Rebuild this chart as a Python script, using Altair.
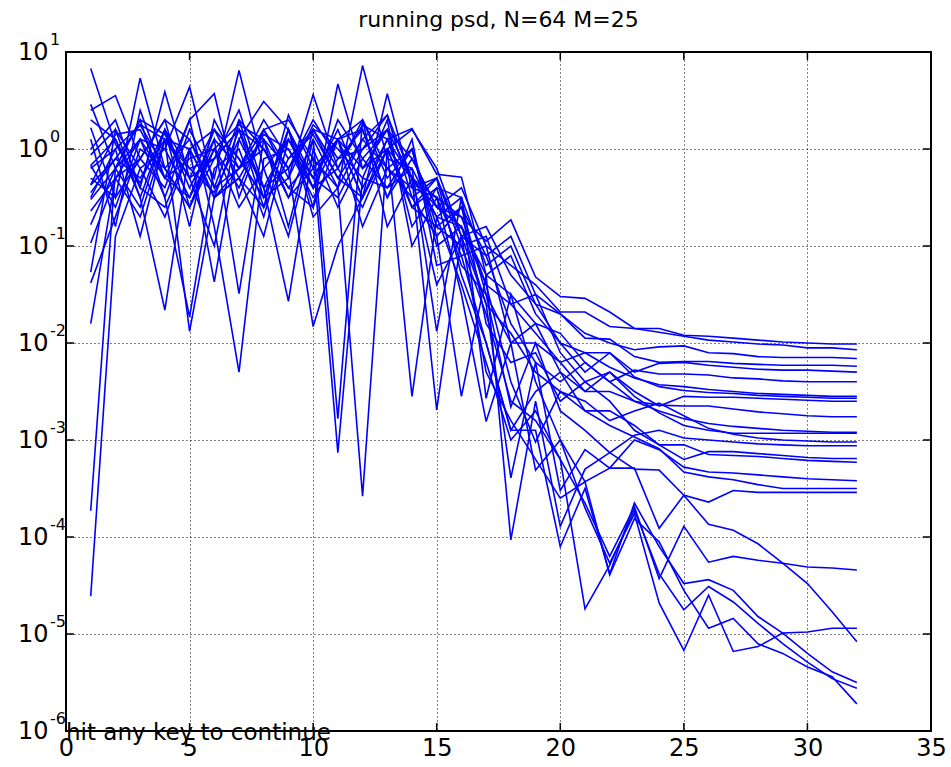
import altair as alt
import pandas as pd

FONT = "DejaVu Sans"

title_text = "running psd, N=64 M=25"
footer_text = "hit any key to continue"
freq_bins = list(range(1, 33))
x_ticks = [0, 5, 10, 15, 20, 25, 30, 35]
y_decades = [10, 1, 0.1, 0.01, 1e-3, 1e-4, 1e-5, 1e-6]
y_exponents = ["1", "0", "-1", "-2", "-3", "-4", "-5", "-6"]

# log10 of the PSD estimate of each of the M=25 runs, bins 1..32
run_01 = [0.83, 0.05, -0.35, 0.2, -0.4, 0.1, -0.2, 0.3, -0.1, 0.2, -0.3, 0.1, -0.2, -0.4, -0.5, -0.7, -0.95, -0.73, -1.32, -1.52, -1.54, -1.68, -1.85, -1.85, -1.92, -1.93, -1.95, -1.97, -1.99, -2.00, -2.01, -2.01]
run_02 = [0.46, -0.2, 0.3, -0.5, 0.2, -0.3, 0.81, -0.2, 0.1, -0.4, 0.3, -0.1, 0.2, -0.3, -0.6, -0.4, -1.0, -1.2, -1.4, -1.68, -1.68, -1.83, -1.85, -1.89, -1.93, -1.97, -1.99, -2.01, -2.02, -2.05, -2.05, -2.07]
run_03 = [0.40, 0.55, -0.1, 0.3, -0.6, 0.0, -0.4, 0.2, -0.3, 0.56, -0.2, 0.3, -0.3, 0.0, -0.8, -0.6, -1.1, -0.9, -1.5, -1.7, -1.9, -2.0, -2.07, -2.04, -2.03, -2.1, -2.11, -2.14, -2.15, -2.15, -2.15, -2.16]
run_04 = [0.22, -0.5, 0.73, -0.2, 0.1, -0.5, 0.2, -0.6, 0.35, -0.2, 0.1, -0.5, 0.57, -0.4, -0.3, -0.9, -0.8, -1.3, -1.6, -1.7, -1.95, -1.96, -2.14, -2.2, -2.19, -2.19, -2.21, -2.22, -2.23, -2.23, -2.23, -2.24]
run_05 = [0.0, 0.3, -0.4, 0.59, -0.3, 0.2, -0.1, -0.5, 0.2, -0.6, 0.67, -0.2, 0.0, -0.6, -0.4, -0.5, -1.2, -1.0, -1.6, -2.0, -2.1, -2.1, -2.3, -2.21, -2.2, -2.23, -2.25, -2.27, -2.28, -2.28, -2.29, -2.30]
run_06 = [-0.06, 0.2, -0.2, 0.0, 0.64, -0.4, 0.3, 0.0, -0.5, 0.1, -0.4, 0.86, -0.1, -0.2, -0.7, -0.8, -1.3, -1.5, -1.8, -1.9, -2.2, -2.4, -2.28, -2.32, -2.32, -2.33, -2.36, -2.37, -2.39, -2.40, -2.40, -2.40]
run_07 = [-0.17, -0.6, 0.1, -0.3, 0.3, 0.57, -0.5, 0.2, -0.2, 0.3, -0.1, 0.0, 0.35, -0.5, -0.3, -1.0, -0.9, -1.6, -1.9, -2.2, -2.1, -2.25, -2.36, -2.43, -2.45, -2.48, -2.50, -2.52, -2.53, -2.54, -2.55, -2.55]
run_08 = [-0.17, 0.1, -0.5, 0.2, -0.2, -0.1, 0.4, -0.4, 0.1, -0.3, 0.2, -0.4, 0.1, 0.21, -0.26, -0.29, -1.3, -1.1, -1.7, -2.0, -2.3, -2.1, -2.35, -2.45, -2.49, -2.51, -2.52, -2.54, -2.55, -2.56, -2.57, -2.57]
run_09 = [-0.37, -0.1, 0.25, 0.1, -0.2, -0.45, 0.1, 0.49, 0.2, -0.3, -0.5, 0.0, 0.2, -0.1, -0.6, -0.7, -1.4, -1.6, -1.5, -2.1, -2.4, -2.3, -2.5, -2.65, -2.55, -2.56, -2.56, -2.57, -2.58, -2.59, -2.60, -2.60]
run_10 = [-0.37, 0.15, 0.2, -0.3, -0.5, 0.0, 0.25, 0.1, -0.5, -0.2, 0.1, 0.3, -0.2, -0.5, -0.9, -0.6, -1.5, -2.0, -1.8, -2.3, -2.5, -2.5, -2.6, -2.64, -2.65, -2.65, -2.68, -2.71, -2.73, -2.75, -2.76, -2.76]
run_11 = [-0.52, -0.2, 0.3, 0.15, -0.3, -0.1, 0.2, -0.4, -0.2, 0.2, 0.1, -0.5, 0.0, 0.2, -0.2, -0.9, -1.1, -1.8, -2.2, -2.4, -2.2, -2.4, -2.6, -2.7, -2.78, -2.83, -2.86, -2.88, -2.9, -2.91, -2.92, -2.92]
run_12 = [-0.64, -0.3, -0.1, 0.3, 0.1, -0.4, -0.2, 0.2, 0.3, -0.1, -0.4, 0.1, 0.35, -0.3, -0.5, -1.1, -1.0, -2.0, -2.0, -2.2, -2.5, -2.3, -2.55, -2.72, -2.85, -2.9, -2.93, -2.93, -2.93, -2.93, -2.93, -2.93]
run_13 = [-0.78, -0.2, 0.1, 0.0, -0.5, 0.2, -0.1, -0.5, -0.3, 0.25, 0.0, -0.3, -0.4, 0.0, -1.0, -0.8, -1.6, -1.9, -2.3, -2.5, -2.6, -2.8, -2.7, -2.62, -2.75, -2.88, -2.94, -2.98, -3.0, -3.01, -3.02, -3.02]
run_14 = [-0.97, -0.3, 0.1, -0.5, -1.73, -0.2, 0.0, -0.7, 0.2, -0.4, 0.1, -0.2, 0.2, -0.8, -0.4, -1.2, -1.5, -2.66, -2.0, -2.7, -2.9, -3.13, -2.95, -2.9, -2.98, -3.0, -3.02, -3.04, -3.05, -3.06, -3.06, -3.06]
run_15 = [-1.27, 0.2, -0.5, -1.66, 0.0, -1.37, 0.1, -0.4, -1.57, 0.0, -0.6, -0.1, -0.4, -0.2, -1.88, -0.5, -1.8, -2.2, -2.1, -2.6, -2.4, -2.6, -2.9, -3.05, -3.2, -3.12, -3.12, -3.14, -3.16, -3.18, -3.19, -3.19]
run_16 = [-1.38, -0.7, 0.0, -0.2, -0.6, 0.1, -1.49, 0.1, -0.2, -1.83, -1.0, -0.5, 0.1, -0.6, -0.3, -1.3, -2.0, -2.9, -2.5, -2.3, -2.7, -2.7, -2.85, -3.05, -3.05, -3.15, -3.16, -3.17, -3.19, -3.21, -3.22, -3.23]
run_17 = [-1.80, -0.3, -0.7, 0.1, -1.88, -0.5, -0.2, 0.1, -0.8, 0.2, -0.2, -0.6, 0.0, -2.55, -0.7, -0.5, -2.57, -1.5, -2.4, -3.0, -3.43, -3.29, -3.0, -3.1, -3.28, -3.33, -3.34, -3.36, -3.38, -3.40, -3.41, -3.42]
run_18 = [-0.3, -0.5, -0.1, -0.4, 0.3, -0.8, -2.30, -0.1, 0.0, -0.5, -0.1, 0.2, -0.5, -0.1, -0.6, -0.8, -1.4, -2.4, -3.02, -2.5, -2.7, -2.85, -2.97, -3.09, -3.33, -3.38, -3.41, -3.46, -3.50, -3.50, -3.50, -3.50]
run_19 = [0.1, -0.8, 0.4, -0.3, -0.1, 0.0, -0.6, -0.2, -0.9, 0.1, -2.78, 0.3, -0.8, -0.3, -2.69, -0.9, -1.6, -3.39, -2.2, -3.52, -3.1, -3.29, -3.29, -3.91, -3.57, -3.64, -3.52, -3.54, -3.54, -3.54, -3.54, -3.54]
run_20 = [-0.2, 0.0, -0.9, 0.1, -0.3, -1.0, 0.3, -0.5, 0.2, -0.7, -0.4, -3.58, 0.0, -0.6, -0.8, -1.0, -1.7, -2.6, -2.8, -3.2, -3.65, -4.2, -3.69, -4.43, -3.89, -4.26, -4.20, -4.24, -4.27, -4.31, -4.32, -4.34]
run_21 = [-3.73, -0.2, -0.6, 0.2, -0.8, 0.3, -0.2, 0.0, -0.4, -0.1, -3.13, -0.3, 0.3, -1.0, -0.5, -1.5, -2.81, -2.0, -3.31, -3.0, -3.7, -4.27, -3.76, -4.68, -5.17, -4.60, -5.18, -5.13, -4.99, -4.98, -4.94, -4.94]
run_22 = [-4.61, -0.9, -0.2, -0.7, 0.0, -0.5, -0.3, -0.9, 0.1, -0.3, 0.1, -0.8, -0.2, 0.0, -0.9, -2.55, -1.3, -4.03, -2.6, -3.89, -3.3, -3.13, -3.3, -3.31, -3.57, -3.87, -3.93, -4.07, -4.27, -4.48, -4.77, -5.08]
run_23 = [-0.5, 0.0, 0.25, -0.2, -0.6, -0.1, 0.2, 0.0, -0.4, -0.6, 0.1, 0.2, -0.5, 0.1, -1.2, -1.1, -2.0, -2.9, -2.9, -4.10, -3.5, -4.38, -3.65, -4.1, -4.48, -4.44, -4.55, -4.82, -4.99, -5.20, -5.39, -5.50]
run_24 = [0.3, 0.1, -0.4, -0.6, 0.0, 0.2, -0.3, -0.6, -0.1, 0.15, -0.3, -0.5, 0.0, -0.3, -0.7, -1.4, -2.2, -3.0, -2.7, -3.2, -4.74, -4.29, -3.72, -4.38, -4.75, -4.51, -4.67, -4.89, -5.10, -5.29, -5.46, -5.56]
run_25 = [-0.45, -0.1, -0.3, 0.1, 0.0, -0.5, -0.3, 0.15, 0.0, -0.4, -0.2, 0.25, 0.1, -0.3, -1.4, -0.9, -2.3, -2.8, -3.2, -3.6, -3.43, -4.39, -3.81, -4.05, -4.55, -4.94, -4.84, -5.10, -5.20, -5.34, -5.44, -5.72]

runs = [run_01, run_02, run_03, run_04, run_05, run_06, run_07, run_08, run_09,
        run_10, run_11, run_12, run_13, run_14, run_15, run_16, run_17, run_18,
        run_19, run_20, run_21, run_22, run_23, run_24, run_25]
for r in runs:
    assert len(r) == len(freq_bins), len(r)

rows = []
for i, r in enumerate(runs):
    for b, v in zip(freq_bins, r):
        rows.append({"run": i + 1, "bin": b, "psd": 10 ** v})
df = pd.DataFrame(rows)

W, H = 865, 679
TICK = 8

xscale = alt.Scale(domain=[0, 35], nice=False, zero=False)
yscale = alt.Scale(type="log", domain=[1e-6, 10], nice=False)

lines = alt.Chart(df).mark_line(color="#0000FF", strokeWidth=1.6).encode(
    x=alt.X("bin:Q", scale=xscale, title=None,
            axis=alt.Axis(values=x_ticks, format="d", grid=True, gridColor="black",
                          gridDash=[1, 3], gridWidth=1, gridOpacity=1, tickSize=0,
                          domain=False, labelFontSize=24, labelFont=FONT,
                          labelColor="black", labelPadding=5, labelFlush=False,
                          labelOverlap=False)),
    y=alt.Y("psd:Q", scale=yscale, title=None,
            axis=alt.Axis(values=y_decades, labelExpr="'10'", grid=True, gridColor="black",
                          gridDash=[1, 3], gridWidth=1, gridOpacity=1, tickSize=0,
                          domain=False, labelFontSize=24, labelFont=FONT,
                          labelColor="black", labelPadding=18, labelAlign="right",
                          labelBaseline="middle", labelOverlap=False)),
    detail="run:N",
)

ydf = pd.DataFrame({"psd": y_decades, "exp": y_exponents})
xdf = pd.DataFrame({"bin": x_ticks})

left_ticks = alt.Chart(ydf).mark_rule(color="black", strokeWidth=1.5).encode(
    y="psd:Q", x=alt.value(0), x2=alt.value(TICK))
right_ticks = alt.Chart(ydf).mark_rule(color="black", strokeWidth=1.5).encode(
    y="psd:Q", x=alt.value(W - TICK), x2=alt.value(W))
bottom_ticks = alt.Chart(xdf).mark_rule(color="black", strokeWidth=1.5).encode(
    x="bin:Q", y=alt.value(H - TICK), y2=alt.value(H))
top_ticks = alt.Chart(xdf).mark_rule(color="black", strokeWidth=1.5).encode(
    x="bin:Q", y=alt.value(0), y2=alt.value(TICK))

exponents = alt.Chart(ydf).mark_text(
    align="left", baseline="middle", fontSize=16, font=FONT, color="black", dy=-12
).encode(y="psd:Q", x=alt.value(-16), text="exp:N")

footer = alt.Chart(pd.DataFrame({"t": [footer_text]})).mark_text(
    align="left", baseline="middle", fontSize=23, font=FONT, color="black"
).encode(x=alt.value(0), y=alt.value(H + 2), text="t:N")

chart = alt.layer(
    lines, left_ticks, right_ticks, bottom_ticks, top_ticks, exponents, footer
).properties(
    width=W, height=H,
    title=alt.TitleParams(text=title_text, fontSize=22, font=FONT, fontWeight="normal",
                          color="black", anchor="middle", offset=0),
    autosize=alt.AutoSizeParams(type="none"),
    padding={"left": 66, "top": 52, "right": 951 - 66 - W, "bottom": 767 - 52 - H},
    background="white",
).configure_view(stroke="black", strokeWidth=2)

chart.save("out.html", embed_options={"renderer": "svg", "actions": False})
